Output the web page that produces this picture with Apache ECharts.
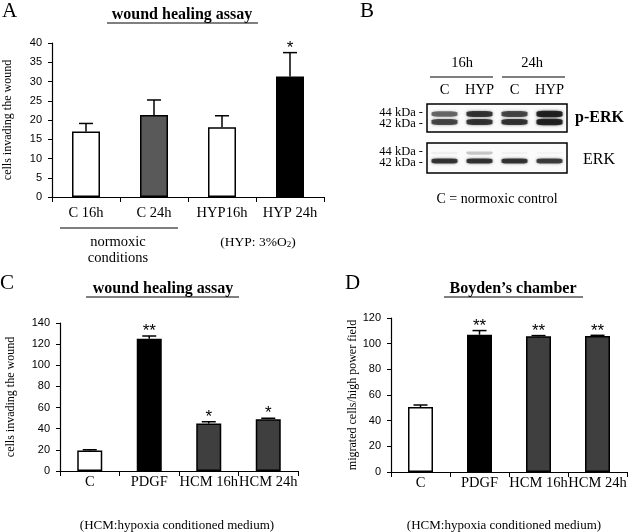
<!DOCTYPE html>
<html lang="en">
<head>
    <meta charset="UTF-8">
    <title>wound healing assay / Boyden's chamber</title>
    <script src="https://cdn.jsdelivr.net/npm/echarts@6.0.0/dist/echarts.min.js"></script>
    <style>
        html, body {
            margin: 0;
            padding: 0;
            background: #fff;
        }

        #main {
            width: 640px;
            height: 532px;
        }
    </style>
</head>
<body>
<div id="main"></div>
<script type="text/javascript">
    // panel A - wound healing, normoxia vs hypoxia
    var catsA = ['C 16h', 'C 24h', 'HYP16h', 'HYP 24h'];
    var valuesA = [17, 21.3, 18.1, 31.3];
    var errorsA = [2.1, 3.9, 3.0, 6.2];
    var starsA = ['', '', '', '*'];

    // panel B - western blot band intensities (0..1), lanes C/HYP at 16h and 24h
    var lanes = ['C', 'HYP', 'C', 'HYP'];
    var pErk44 = [0.65, 0.9, 0.8, 1.0];
    var pErk42 = [0.8, 0.9, 0.9, 1.0];
    var erk44 = [0.06, 0.25, 0.05, 0.04];
    var erk42 = [0.9, 0.9, 0.9, 0.85];
    var kdaMarks = [44, 42];

    // panel C - wound healing with PDGF / HCM
    var catsC = ['C', 'PDGF', 'HCM 16h', 'HCM 24h'];
    var valuesC = [19.5, 125.2, 45, 49];
    var errorsC = [0.6, 2.5, 1.6, 0.9];
    var starsC = ['', '**', '*', '*'];

    // panel D - Boyden's chamber
    var catsD = ['C', 'PDGF', 'HCM 16h', 'HCM 24h'];
    var valuesD = [50.6, 107, 105.7, 106];
    var errorsD = [1.6, 3.2, 0.6, 0.5];
    var starsD = ['', '**', '**', '**'];

    var fillA = ['#ffffff', '#595959', '#ffffff', '#000000'];
    var fillCD = ['#ffffff', '#000000', '#3f3f3f', '#3f3f3f'];

    var SERIF = "'Liberation Serif', 'Times New Roman', serif";
    var SANS = "'Liberation Sans', Arial, sans-serif";

    var myChart = echarts.init(document.getElementById('main'), null, {renderer: 'canvas'});

    function barData(values, fills) {
        return values.map(function (v, i) {
            return {
                value: v,
                itemStyle: {color: fills[i], borderColor: '#000', borderWidth: 1.5}
            };
        });
    }

    function errorSeries(axisIndex, values, errors, stars) {
        return {
            type: 'custom',
            xAxisIndex: axisIndex,
            yAxisIndex: axisIndex,
            z: 5,
            silent: true,
            data: values.map(function (v, i) {
                return [i, v, errors[i]];
            }),
            renderItem: function (params, api) {
                var x = api.value(0);
                var v = api.value(1);
                var e = api.value(2);
                var p0 = api.coord([x, v]);
                var p1 = api.coord([x, v + e]);
                var cap = 7;
                var children = [
                    {
                        type: 'line',
                        shape: {x1: p0[0], y1: p0[1], x2: p1[0], y2: p1[1]},
                        style: {stroke: '#000', lineWidth: 1.5}
                    },
                    {
                        type: 'line',
                        shape: {x1: p1[0] - cap, y1: p1[1], x2: p1[0] + cap, y2: p1[1]},
                        style: {stroke: '#000', lineWidth: 1.5}
                    }
                ];
                var s = stars[params.dataIndex];
                if (s) {
                    children.push({
                        type: 'text',
                        x: p1[0],
                        y: p1[1] + 4,
                        style: {
                            text: s,
                            font: '17px ' + SANS,
                            fill: '#000',
                            align: 'center',
                            verticalAlign: 'bottom'
                        }
                    });
                }
                return {type: 'group', children: children};
            }
        };
    }

    function bandItem(lane, kda, v) {
        return {
            value: [lane, kda, v],
            itemStyle: {
                color: 'rgba(8,8,8,' + v + ')',
                shadowBlur: 3,
                shadowColor: 'rgba(0,0,0,' + (v * 0.7) + ')'
            }
        };
    }

    function bandData(b44, b42) {
        var out = [];
        b44.forEach(function (v, i) {
            out.push(bandItem(i, 44, v));
        });
        b42.forEach(function (v, i) {
            out.push(bandItem(i, 42, v));
        });
        return out;
    }

    function catAxis(grid, cats, margin) {
        return {
            gridIndex: grid,
            type: 'category',
            data: cats,
            axisLine: {lineStyle: {color: '#000', width: 1.2}},
            axisTick: {show: true, length: 5, lineStyle: {color: '#000'}},
            axisLabel: {margin: margin, color: '#000', fontFamily: SERIF, fontSize: 14.5, interval: 0, hideOverlap: false}
        };
    }

    function valAxis(grid, max, step, name, gap) {
        return {
            gridIndex: grid,
            type: 'value',
            min: 0,
            max: max,
            interval: step,
            splitLine: {show: false},
            axisLine: {show: true, lineStyle: {color: '#000', width: 1.2}},
            axisTick: {show: true, length: 4, lineStyle: {color: '#000'}},
            axisLabel: {margin: 10, color: '#000', fontFamily: SANS, fontSize: 11},
            name: name,
            nameLocation: 'middle',
            nameGap: gap,
            nameTextStyle: {color: '#000', fontFamily: SERIF, fontSize: 12}
        };
    }

    function blotAxis(grid, min, max) {
        return {
            gridIndex: grid,
            type: 'value',
            min: min,
            max: max,
            splitLine: {show: false},
            axisLine: {show: false},
            axisTick: {show: false},
            axisLabel: {show: false}
        };
    }

    function txt(x, y, text, font, align, extra) {
        var style = {
            text: text,
            font: font,
            fill: '#000',
            align: align || 'center',
            verticalAlign: 'middle',
            textAlign: align || 'center',
            textVerticalAlign: 'middle'
        };
        if (extra) {
            for (var k in extra) {
                style[k] = extra[k];
            }
        }
        return {type: 'text', x: x, y: y, style: style, silent: true};
    }

    function hline(x1, x2, y, w) {
        return {
            type: 'line',
            shape: {x1: x1, y1: y, x2: x2, y2: y},
            style: {stroke: '#000', lineWidth: w || 1.2},
            silent: true
        };
    }

    var labels = [
        // panel letters
        txt(2, 11, 'A', '21px ' + SERIF, 'left'),
        txt(360, 11, 'B', '21px ' + SERIF, 'left'),
        txt(0, 283, 'C', '21px ' + SERIF, 'left'),
        txt(345, 283, 'D', '21px ' + SERIF, 'left'),
        // titles
        txt(182, 15, 'wound healing assay', 'bold 16px ' + SERIF),
        hline(107, 258, 23, 1),
        txt(163, 289, 'wound healing assay', 'bold 16px ' + SERIF),
        hline(86, 239, 297, 1),
        txt(513, 289, 'Boyden\u2019s chamber', 'bold 16px ' + SERIF),
        hline(444, 583, 297, 1),
        // panel A notes
        hline(60, 178, 228, 1.2),
        txt(118, 242, 'normoxic', '14.5px ' + SERIF),
        txt(118, 258, 'conditions', '14.5px ' + SERIF),
        txt(258, 242, '(HYP: 3%O{sub|2})', '13.5px ' + SERIF, 'center', {
            rich: {sub: {fontSize: 9, fontFamily: SERIF, verticalAlign: 'bottom', padding: [6, 0, 0, 0]}}
        }),
        // panel B headers
        txt(462, 63, '16h', '14.5px ' + SERIF),
        txt(532, 63, '24h', '14.5px ' + SERIF),
        hline(430, 493, 77, 1.2),
        hline(502, 565, 77, 1.2),
        txt(575, 118, 'p-ERK', 'bold 16px ' + SERIF, 'left'),
        txt(583, 160, 'ERK', '16px ' + SERIF, 'left'),
        txt(497, 199, 'C = normoxic control', '14px ' + SERIF),
        // panel C / D notes
        txt(177, 526, '(HCM:hypoxia conditioned medium)', '13px ' + SERIF),
        txt(504, 526, '(HCM:hypoxia conditioned medium)', '13px ' + SERIF)
    ];

    var option = {
        animation: false,
        backgroundColor: '#fff',
        grid: [
            {left: 52, top: 43, width: 272, height: 154},
            {left: 427, top: 104, width: 140, height: 28, show: true, borderColor: '#000', borderWidth: 1.5, backgroundColor: '#fbfbfb'},
            {left: 427, top: 143, width: 140, height: 30, show: true, borderColor: '#000', borderWidth: 1.5, backgroundColor: '#fbfbfb'},
            {left: 60, top: 323, width: 238, height: 148},
            {left: 391, top: 318, width: 236, height: 154}
        ],
        xAxis: [
            catAxis(0, catsA, 9),
            {
                gridIndex: 1,
                type: 'category',
                data: lanes,
                position: 'top',
                axisLine: {show: false},
                axisTick: {show: false},
                axisLabel: {margin: 6, interval: 0, hideOverlap: false, color: '#000', fontFamily: SERIF, fontSize: 14.5}
            },
            {
                gridIndex: 2,
                type: 'category',
                data: lanes,
                axisLine: {show: false},
                axisTick: {show: false},
                axisLabel: {show: false}
            },
            catAxis(3, catsC, 4),
            catAxis(4, catsD, 4)
        ],
        yAxis: [
            valAxis(0, 40, 5, 'cells invading the wound', 38),
            blotAxis(1, 39.5, 46.5),
            blotAxis(2, 39, 46.5),
            valAxis(3, 140, 20, 'cells invading the wound', 43),
            valAxis(4, 120, 20, 'migrated cells/high power field', 28)
        ],
        series: [
            {
                type: 'bar',
                xAxisIndex: 0,
                yAxisIndex: 0,
                barWidth: 28,
                data: barData(valuesA, fillA)
            },
            errorSeries(0, valuesA, errorsA, starsA),
            {
                type: 'scatter',
                xAxisIndex: 1,
                yAxisIndex: 1,
                symbol: 'roundRect',
                symbolSize: function (val) {
                    return [26, 3 + 3.5 * val[2]];
                },
                silent: true,
                data: bandData(pErk44, pErk42)
            },
            {
                type: 'scatter',
                xAxisIndex: 2,
                yAxisIndex: 2,
                symbol: 'roundRect',
                symbolSize: function (val) {
                    return [26, 2.5 + 3 * val[2]];
                },
                silent: true,
                data: bandData(erk44, erk42)
            },
            {
                type: 'bar',
                xAxisIndex: 3,
                yAxisIndex: 3,
                barWidth: 25,
                data: barData(valuesC, fillCD)
            },
            errorSeries(3, valuesC, errorsC, starsC),
            {
                type: 'bar',
                xAxisIndex: 4,
                yAxisIndex: 4,
                barWidth: 25,
                data: barData(valuesD, fillCD)
            },
            errorSeries(4, valuesD, errorsD, starsD)
        ],
        graphic: {elements: labels}
    };

    myChart.setOption(option);

    // molecular weight markers beside the blots, placed through the blot y axes
    [1, 2].forEach(function (axisIndex) {
        kdaMarks.forEach(function (kda, i) {
            var py = myChart.convertToPixel({yAxisIndex: axisIndex}, kda);
            // the two marker labels sit slightly further apart than the bands
            py += (i === 0 ? -1.5 : 1.5);
            labels.push(txt(423, py, kda + ' kDa -', '12.5px ' + SERIF, 'right'));
        });
    });
    myChart.setOption({graphic: {elements: labels}});
</script>
</body>
</html>
